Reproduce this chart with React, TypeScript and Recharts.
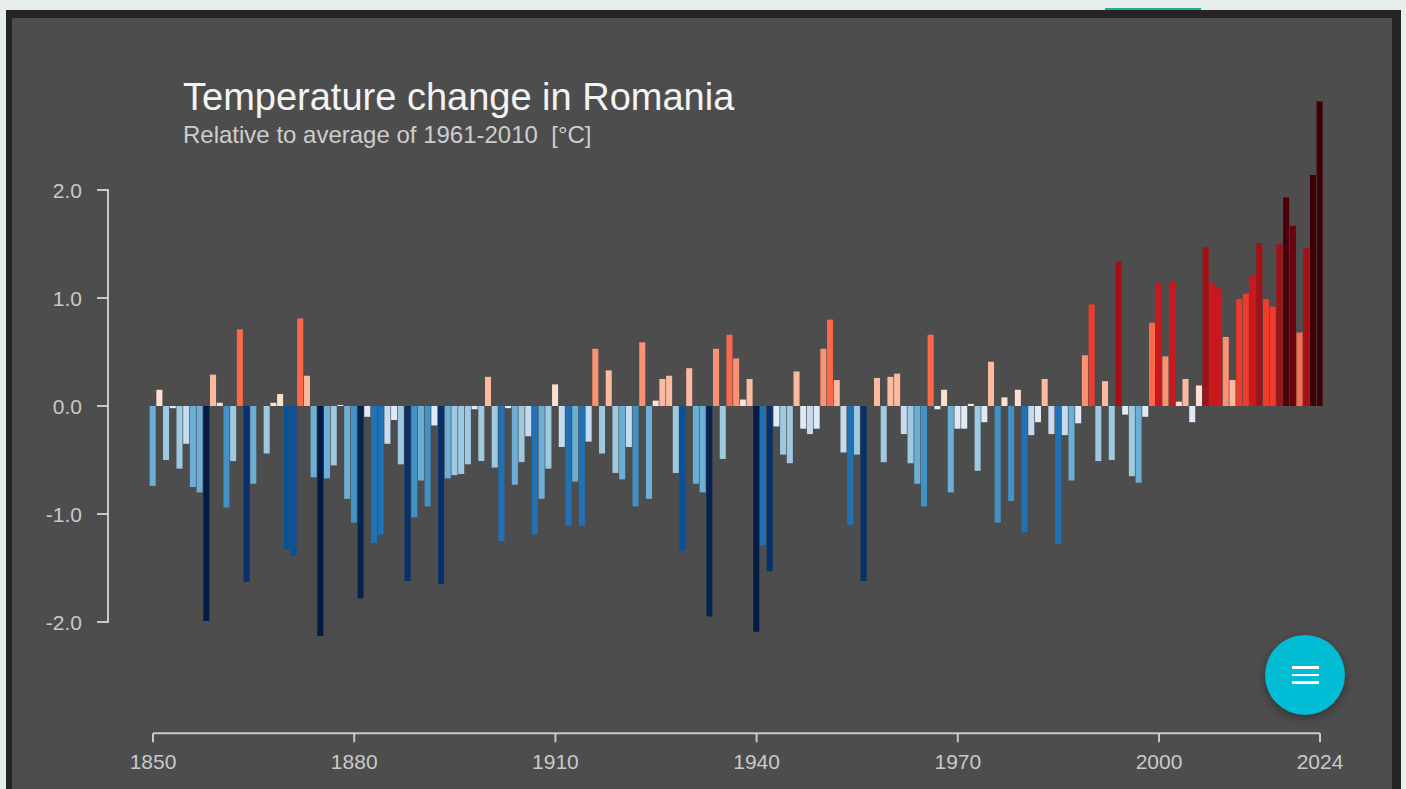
import React from 'react';
import { BarChart, Bar, XAxis, YAxis, Cell } from 'recharts';

// annual anomaly, °C relative to 1961-2010, one value per year from 1850
const FIRST_YEAR = 1850;
const ANOMALIES = [
  -0.74, 0.15, -0.50, -0.02, -0.58, -0.35, -0.75, -0.80, -1.99, 0.29, // 1850s
  0.03, -0.94, -0.51, 0.71, -1.63, -0.72, 0.00, -0.44, 0.03, 0.11, // 1860s
  -1.33, -1.39, 0.81, 0.28, -0.66, -2.13, -0.67, -0.55, 0.01, -0.86, // 1870s
  -1.08, -1.78, -0.10, -1.27, -1.19, -0.35, -0.13, -0.54, -1.62, -1.03, // 1880s
  -0.69, -0.93, -0.18, -1.65, -0.67, -0.64, -0.63, -0.54, -0.03, -0.51, // 1890s
  0.27, -0.57, -1.25, -0.02, -0.73, -0.52, -0.28, -1.19, -0.86, -0.58, // 1900s
  0.20, -0.38, -1.11, -0.70, -1.11, -0.33, 0.53, -0.44, 0.33, -0.62, // 1910s
  -0.68, -0.38, -0.93, 0.59, -0.86, 0.05, 0.25, 0.28, -0.62, -1.34, // 1920s
  0.35, -0.72, -0.80, -1.95, 0.53, -0.49, 0.66, 0.44, 0.06, 0.25, // 1930s
  -2.09, -1.29, -1.53, -0.19, -0.45, -0.53, 0.32, -0.21, -0.26, -0.21, // 1940s
  0.53, 0.80, 0.24, -0.43, -1.10, -0.45, -1.62, 0.00, 0.26, -0.52, // 1950s
  0.27, 0.30, -0.26, -0.53, -0.72, -0.93, 0.66, -0.03, 0.15, -0.80, // 1960s
  -0.21, -0.21, 0.02, -0.60, -0.15, 0.41, -1.08, 0.08, -0.88, 0.15, // 1970s
  -1.17, -0.27, -0.15, 0.25, -0.26, -1.28, -0.27, -0.69, -0.16, 0.47, // 1980s
  0.94, -0.51, 0.23, -0.50, 1.34, -0.08, -0.65, -0.71, -0.10, 0.77, // 1990s
  1.14, 0.46, 1.15, 0.04, 0.25, -0.15, 0.19, 1.47, 1.14, 1.09, // 2000s
  0.64, 0.24, 0.99, 1.04, 1.21, 1.51, 0.99, 0.92, 1.50, 1.93, // 2010s
  1.67, 0.68, 1.46, 2.14, 2.82, // 2020-2024
];
const YEARS = ANOMALIES.map((_, i) => FIRST_YEAR + i);

const X_TICKS = [1850, 1880, 1910, 1940, 1970, 2000, 2024];
const Y_TICKS = [-2, -1, 0, 1, 2];

// stripes palette, one colour per 0.217 °C step
const BLUES = ['#deebf7', '#c6dbef', '#9ecae1', '#6baed6', '#4292c6', '#2171b5', '#08519c', '#08306b', '#06234f', '#041c45'];
const REDS = ['#fee0d2', '#fcbba1', '#fc9272', '#fb6a4a', '#ef3b2c', '#cb181d', '#a50f15', '#67000d', '#4a0008', '#3d0006'];
const STEP_C = 0.217;

const barColor = (v: number) => {
  const k = Math.min(Math.floor(Math.abs(v) / STEP_C), BLUES.length - 1);
  return v < 0 ? BLUES[k] : REDS[k];
};

const W = 1406;
const H = 789;
const PLOT_LEFT = 153;
const PLOT_RIGHT = 1320;
const PLOT_TOP = 82;
const PLOT_BOTTOM = 733.24;
const Y_MIN = -3.03;
const Y_MAX = 3;
const PX_PER_C = (PLOT_BOTTOM - PLOT_TOP) / (Y_MAX - Y_MIN);

const AXIS = '#c9c9c9';
const FONT = '"Liberation Sans", Arial, Helvetica, sans-serif';

const data = YEARS.map((year, i) => ({ year, value: ANOMALIES[i] }));

function YTick(props: any) {
  const { x, y, payload } = props;
  const v = payload.value as number;
  return (
    <g>
      {v > Y_TICKS[0] && (
        <line x1={x} x2={x} y1={y - 1} y2={y + PX_PER_C + 1} stroke={AXIS} strokeWidth={2} />
      )}
      <line x1={x - 11} x2={x + 1} y1={y} y2={y} stroke={AXIS} strokeWidth={2} />
      <text x={x - 26} y={y} dy="0.36em" textAnchor="end" fill={AXIS} fontSize={21} fontFamily={FONT}>
        {v.toFixed(1)}
      </text>
    </g>
  );
}

export default function App() {
  return (
    <div style={{ position: 'absolute', left: 0, top: 0, width: W, height: H, overflow: 'hidden', background: '#e5eeec' }}>
      <div style={{ position: 'absolute', left: 1105, top: 8, width: 96, height: 3, background: '#1fae8f' }} />
      <div style={{ position: 'absolute', left: 6, top: 10, width: 1395, height: 800, background: '#242424' }} />
      <div style={{ position: 'absolute', left: 12, top: 18, width: 1380, height: 800, background: '#4d4d4d' }} />

      <div style={{ position: 'absolute', left: 0, top: 0 }}>
        <BarChart
          width={W}
          height={H}
          data={data}
          margin={{ top: PLOT_TOP, right: W - PLOT_RIGHT, bottom: 0, left: 0 }}
          barCategoryGap={0}
          barGap={0}
        >
          <XAxis
            dataKey="year"
            type="number"
            domain={[FIRST_YEAR, YEARS[YEARS.length - 1]]}
            ticks={X_TICKS}
            interval={0}
            height={H - PLOT_BOTTOM}
            axisLine={{ stroke: AXIS, strokeWidth: 2 }}
            tickLine={{ stroke: AXIS, strokeWidth: 2 }}
            tickSize={9}
            tickMargin={12}
            tick={{ fill: AXIS, fontSize: 21, fontFamily: FONT }}
          />
          <YAxis
            type="number"
            domain={[Y_MIN, Y_MAX]}
            ticks={Y_TICKS}
            interval={0}
            width={PLOT_LEFT}
            axisLine={false}
            tickLine={false}
            tickSize={0}
            tickMargin={PLOT_LEFT - 108}
            tick={<YTick />}
          />
          <Bar dataKey="value" barSize={7} isAnimationActive={false}>
            {data.map((d) => (
              <Cell key={d.year} fill={barColor(d.value)} />
            ))}
          </Bar>
        </BarChart>
      </div>

      <svg width={W} height={H} style={{ position: 'absolute', left: 0, top: 0, pointerEvents: 'none' }}>
        <text x={183} y={110} fill="#f4f4f4" fontSize={38} fontFamily={FONT}>
          Temperature change in Romania
        </text>
        <text x={183} y={143} fill="#cdcdcd" fontSize={24} fontFamily={FONT} style={{ whiteSpace: 'pre' }}>
          {'Relative to average of 1961-2010  [°C]'}
        </text>
      </svg>

      <div
        style={{
          position: 'absolute',
          left: 1265,
          top: 635,
          width: 80,
          height: 80,
          borderRadius: '50%',
          background: '#00bcd4',
          boxShadow: '0 3px 10px rgba(0,0,0,0.35)',
        }}
      >
        {[-7.5, 0, 7.5].map((dy) => (
          <div
            key={dy}
            style={{
              position: 'absolute',
              left: 27,
              top: 40 + dy - 1.25,
              width: 27,
              height: 2.5,
              background: '#ffffff',
            }}
          />
        ))}
      </div>
    </div>
  );
}
